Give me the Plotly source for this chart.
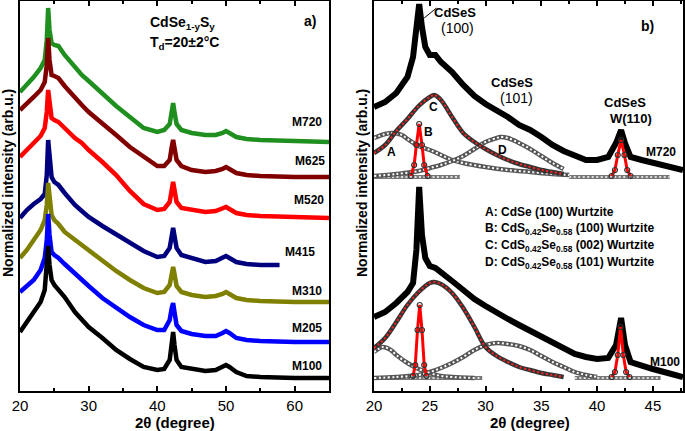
import plotly.graph_objects as go

FONT = "Liberation Sans, Arial, sans-serif"

# ---------------- Panel a data (2theta in degree, normalized intensity arb.u.) ----------------
xa = [20, 21, 22, 23, 23.6, 23.9, 24.1, 24.3, 24.6, 25.0, 25.6, 26.5, 28, 29, 30, 32, 34, 36, 38, 40,
      41, 41.8, 42.1, 42.3, 42.5, 42.8, 43.5, 45, 47, 48.5, 49.5, 50, 50.5, 51.5, 53, 55, 60, 65]
m720 = [298, 305, 313, 322, 330, 350, 382, 360, 347, 345, 344, 335, 322, 315, 309, 296, 284, 273, 262, 258,
        260, 266, 280, 287, 278, 266, 260, 257, 255, 255, 257, 259, 257, 253, 251, 250, 249, 248]
m625 = [280, 286, 293, 300, 308, 325, 352, 330, 315, 314, 312, 304, 292, 285, 278, 267, 255, 243, 233, 224,
        224, 230, 243, 250, 242, 230, 224, 220, 218, 219, 221, 223, 221, 217, 215, 214, 213, 213]
m520 = [233, 240, 247, 254, 262, 278, 300, 285, 272, 270, 268, 262, 252, 247, 240, 228, 215, 199, 186, 180,
        181, 188, 202, 208, 200, 188, 182, 180, 178, 179, 181, 183, 181, 177, 175, 174, 173, 172]
xa_m415 = xa[:-2] + [57.8]
m415 = [172, 180, 186, 191, 196, 215, 250, 230, 213, 208, 205, 197, 185, 179, 173, 164, 156, 148, 139, 133,
        134, 142, 156, 162, 154, 142, 135, 132, 128, 129, 132, 134, 132, 128, 126, 125, 125]
m310 = [132, 140, 150, 160, 170, 185, 207, 190, 175, 170, 166, 158, 150, 145, 140, 129, 119, 110, 102, 97,
        98, 105, 118, 123, 116, 104, 98, 95, 93, 94, 96, 98, 96, 92, 90, 89, 88, 88]
m205 = [98, 104, 110, 120, 132, 150, 176, 155, 138, 135, 132, 126, 116, 110, 104, 92, 82, 73, 65, 60,
        60, 70, 82, 87, 78, 65, 59, 56, 54, 54, 57, 59, 57, 52, 50, 49, 48, 48]
m100 = [58, 68, 77, 88, 100, 120, 144, 125, 110, 105, 100, 93, 78, 70, 63, 52, 40, 31, 23, 20,
        21, 30, 48, 58, 45, 30, 23, 21, 19, 20, 23, 25, 23, 18, 14, 13, 12, 12]

series_a = [
    ("M720", xa, m720, "#1f8f1f"),
    ("M625", xa, m625, "#800000"),
    ("M520", xa, m520, "#ff0000"),
    ("M415", xa_m415, m415, "#00007f"),
    ("M310", xa, m310, "#7f7f00"),
    ("M205", xa, m205, "#0000ff"),
    ("M100", xa, m100, "#000000"),
]
labels_a = ["M720", "M625", "M520", "M415", "M310", "M205", "M100"]
labels_a_x = [61.8, 62.2, 62.1, 60.8, 61.8, 61.8, 61.8]
labels_a_y = [268, 229, 190, 138, 99, 62, 24]

# ---------------- Panel b data ----------------
xb = [20, 21, 22, 23, 23.5, 23.8, 24.05, 24.3, 24.6, 25.0, 25.5, 26, 27, 28, 29, 30, 31, 32, 33, 34, 35,
      36, 37, 38, 39, 40, 41, 41.7, 42.15, 42.5, 43, 44, 45, 46, 47, 47.7]
b_m720 = [283, 288, 297, 313, 333, 360, 386, 363, 343, 335, 335, 328, 318, 305, 294, 286, 280, 273, 265, 260, 253,
          245, 239, 234, 230, 230, 233, 247, 260, 247, 233, 230, 227, 225, 222, 220]
b_m100 = [73, 78, 87, 98, 107, 140, 203, 155, 132, 124, 122, 118, 109, 100, 91, 84, 77, 71, 65, 59, 53,
          47, 41, 36, 33, 31, 32, 45, 72, 45, 28, 24, 21, 18, 15, 13]

# fit components, upper (M720)
xc_up = [20, 21, 22, 23, 24, 25, 25.4, 26, 27, 28, 29, 30, 31, 32, 33, 34, 35, 36, 37]
c_up = [237, 245, 259, 271, 284, 293, 295, 290, 273, 257, 248, 241, 235, 230, 226, 223, 220, 218, 216]
xa_up = [20, 21, 21.6, 22.5, 23, 24, 25, 26, 27, 28, 30, 32, 34, 36, 37.5]
a_up = [252, 256, 257, 255, 251, 244, 240, 235, 230, 227, 223, 220, 218, 216, 215]
xd_up = [20, 22, 24, 25, 26, 27, 28, 29, 30, 31, 31.3, 32, 33, 34, 35, 36, 37]
d_up = [214, 216, 219, 222, 225, 229, 234, 241, 248, 252, 253, 252, 247, 241, 234, 227, 221]
xbb_up = [23.3, 23.6, 23.8, 24.05, 24.3, 24.5, 24.8]
bb_up = [214, 225, 245, 266, 245, 225, 214]
xw_up = [41.3, 41.6, 41.85, 42.15, 42.45, 42.7, 43.0]
w_up = [214, 220, 235, 250, 235, 220, 214]
base_up_x = [[20, 27.7], [37.5, 46.5]]
base_up_y = [[213, 213], [213, 213]]

# fit components, lower (M100)
xc_lo = [20, 21, 22, 23, 24, 25, 25.4, 26, 27, 28, 29, 30, 31, 32, 33, 34, 35, 36, 37]
c_lo = [42, 52, 68, 85, 98, 107, 108, 106, 97, 82, 63, 43, 34, 28, 23, 20, 17, 15, 13]
xa_lo = [20, 20.8, 21.5, 22, 23, 24, 25, 26, 27, 29]
a_lo = [38, 43, 40, 35, 27, 21, 17, 14, 13, 12]
xd_lo = [20, 22, 24, 25, 26, 27, 28, 29, 30, 31, 32, 33, 34, 35, 36, 37, 38, 39, 40]
d_lo = [12, 13, 15, 18, 22, 27, 33, 40, 45, 47, 46, 44, 40, 34, 28, 23, 18, 15, 13]
xbb_lo = [23.5, 23.7, 23.9, 24.1, 24.3, 24.5, 24.7]
bb_lo = [14, 25, 60, 85, 60, 25, 14]
xw_lo = [41.3, 41.6, 41.85, 42.1, 42.35, 42.6, 42.9]
w_lo = [13, 18, 35, 63, 35, 18, 13]
base_lo_x = [[20, 29.7], [38, 45.7]]
base_lo_y = [[12, 12], [12, 12]]

legend_lines = [
    "A: CdSe (100) Wurtzite",
    "B: CdS<sub>0.42</sub>Se<sub>0.58</sub> (100) Wurtzite",
    "C: CdS<sub>0.42</sub>Se<sub>0.58</sub> (002) Wurtzite",
    "D: CdS<sub>0.42</sub>Se<sub>0.58</sub> (101) Wurtzite",
]
legend_y = [178, 161, 144, 127]

fig = go.Figure()

# panel a traces
for name, x, y, col in series_a:
    fig.add_trace(go.Scatter(x=x, y=y, mode="lines", line=dict(color=col, width=4.5),
                             xaxis="x", yaxis="y", showlegend=False, hoverinfo="skip"))


def beads(x, y, ring="#3a3a3a", fill="white", width=4.5):
    fig.add_trace(go.Scatter(x=x, y=y, mode="lines", line=dict(color=ring, width=width, shape="spline"),
                             xaxis="x2", yaxis="y2", showlegend=False, hoverinfo="skip"))
    fig.add_trace(go.Scatter(x=x, y=y, mode="lines",
                             line=dict(color=fill, width=2, shape="spline", dash="2px,2.5px"),
                             xaxis="x2", yaxis="y2", showlegend=False, hoverinfo="skip"))


# panel b black data traces
for yv in (b_m720, b_m100):
    fig.add_trace(go.Scatter(x=xb, y=yv, mode="lines", line=dict(color="black", width=6),
                             xaxis="x2", yaxis="y2", showlegend=False, hoverinfo="skip"))

# baselines
for bx, by in list(zip(base_up_x, base_up_y)) + list(zip(base_lo_x, base_lo_y)):
    beads(bx, by, ring="#777777", fill="#dddddd", width=4)

# broad components
for x, y in [(xa_up, a_up), (xd_up, d_up), (xa_lo, a_lo), (xd_lo, d_lo)]:
    beads(x, y, ring="#555555")
for x, y in [(xc_up, c_up), (xc_lo, c_lo)]:
    beads(x, y, ring="#333333", fill="#ff2020")

# narrow components with red line
for x, y in [(xbb_up, bb_up), (xw_up, w_up), (xbb_lo, bb_lo), (xw_lo, w_lo)]:
    fig.add_trace(go.Scatter(x=x, y=y, mode="lines+markers", line=dict(color="#ff0000", width=3),
                             marker=dict(symbol="circle-open", size=5, color="#333333", line=dict(width=1.2)),
                             xaxis="x2", yaxis="y2", showlegend=False, hoverinfo="skip"))

ann = []
bold = dict(family=FONT, size=12, color="black")
for t, x, y in zip(labels_a, labels_a_x, labels_a_y):
    ann.append(dict(x=x, y=y, xref="x", yref="y", text="<b>%s</b>" % t, showarrow=False, font=bold))
ann.append(dict(x=43.6, y=367, xref="x", yref="y", text="<b>CdSe<sub>1-y</sub>S<sub>y</sub></b>",
                showarrow=False, font=dict(family=FONT, size=14, color="black")))
ann.append(dict(x=44.0, y=347, xref="x", yref="y", text="<b>T<sub>d</sub>=20±2°C</b>",
                showarrow=False, font=dict(family=FONT, size=14, color="black")))
ann.append(dict(x=62.2, y=369, xref="x", yref="y", text="<b>a)</b>", showarrow=False,
                font=dict(family=FONT, size=14, color="black")))

# panel b text
f13b = dict(family=FONT, size=13, color="black")
f14 = dict(family=FONT, size=14, color="black")
ann += [
    dict(x=27.3, y=378, xref="x2", yref="y2", text="<b>CdSeS</b>", showarrow=False, font=f13b),
    dict(x=27.5, y=362, xref="x2", yref="y2", text="(100)", showarrow=False, font=f14),
    dict(x=32.4, y=308, xref="x2", yref="y2", text="<b>CdSeS</b>", showarrow=False, font=f13b),
    dict(x=32.8, y=292, xref="x2", yref="y2", text="(101)", showarrow=False, font=f14),
    dict(x=42.5, y=288, xref="x2", yref="y2", text="<b>CdSeS</b>", showarrow=False, font=f13b),
    dict(x=43.0, y=272, xref="x2", yref="y2", text="<b>W(110)</b>", showarrow=False, font=f13b),
    dict(x=45.75, y=238, xref="x2", yref="y2", text="<b>M720</b>", showarrow=False, font=bold),
    dict(x=46.1, y=28, xref="x2", yref="y2", text="<b>M100</b>", showarrow=False, font=bold),
    dict(x=44.5, y=364, xref="x2", yref="y2", text="<b>b)</b>", showarrow=False, font=f14),
    dict(x=21.6, y=238, xref="x2", yref="y2", text="<b>A</b>", showarrow=False, font=bold),
    dict(x=24.85, y=258, xref="x2", yref="y2", text="<b>B</b>", showarrow=False, font=bold),
    dict(x=25.3, y=283, xref="x2", yref="y2", text="<b>C</b>", showarrow=False, font=bold),
    dict(x=31.5, y=240, xref="x2", yref="y2", text="<b>D</b>", showarrow=False, font=bold),
]
for t, y in zip(legend_lines, legend_y):
    ann.append(dict(x=29.8, y=y, xref="x2", yref="y2", text="<b>%s</b>" % t, showarrow=False,
                    xanchor="left", font=bold))

# axis titles (paper coords relative to plot area: left 20px, width 663px, bottom 391px, height 390px)
for xp in (8, 362):
    ann.append(dict(x=(xp - 20) / 663, y=(391 - 183) / 390, xref="paper", yref="paper",
                    xanchor="center", yanchor="middle",
                    text="<b>Normalized intensity (arb.u.)</b>", textangle=-90, showarrow=False,
                    font=dict(family=FONT, size=14, color="black")))
for xp in (175, 530):
    ann.append(dict(x=(xp - 20) / 663, y=(391 - 422) / 390, xref="paper", yref="paper",
                    xanchor="center", yanchor="middle",
                    text="<b>2θ (degree)</b>", showarrow=False,
                    font=dict(family=FONT, size=15, color="black")))

# pointer line for CdSeS (100)
shapes = [dict(type="line", xref="x2", yref="y2", x0=24.5, y0=372, x1=25.6, y1=382,
               line=dict(color="black", width=1))]


def xax(rng, dt, minor, domain, anchor):
    return dict(range=rng, domain=domain, anchor=anchor, dtick=dt, tick0=20,
                showline=True, linecolor="black", linewidth=1.5, mirror="ticks",
                ticks="inside", ticklen=5, tickwidth=1.5, tickcolor="black",
                minor=dict(ticks="inside", ticklen=3, tickwidth=1.5, dtick=minor, tick0=20, tickcolor="black"),
                showgrid=False, zeroline=False,
                tickfont=dict(family=FONT, size=15, color="black"))


def yax(domain_anchor):
    return dict(range=[-1, 389], domain=[0, 1], anchor=domain_anchor, showline=True, linecolor="black",
                linewidth=1.5, mirror=True, ticks="", showticklabels=False, showgrid=False, zeroline=False)


fig.update_layout(
    width=685, height=431,
    margin=dict(l=20, r=2, t=1, b=40, autoexpand=False),
    paper_bgcolor="white", plot_bgcolor="white",
    font=dict(family=FONT, color="black"),
    xaxis=xax([20, 65], 10, 5, [0, 309 / 663], "y"),
    yaxis=yax("x"),
    xaxis2=xax([20, 47.7], 5, 2.5, [354 / 663, 1], "y2"),
    yaxis2=yax("x2"),
    annotations=ann, shapes=shapes, showlegend=False,
)

fig.write_html("out.html", config={"displayModeBar": False},
               post_script="document.body.style.margin='0';document.body.style.overflow='hidden';")
